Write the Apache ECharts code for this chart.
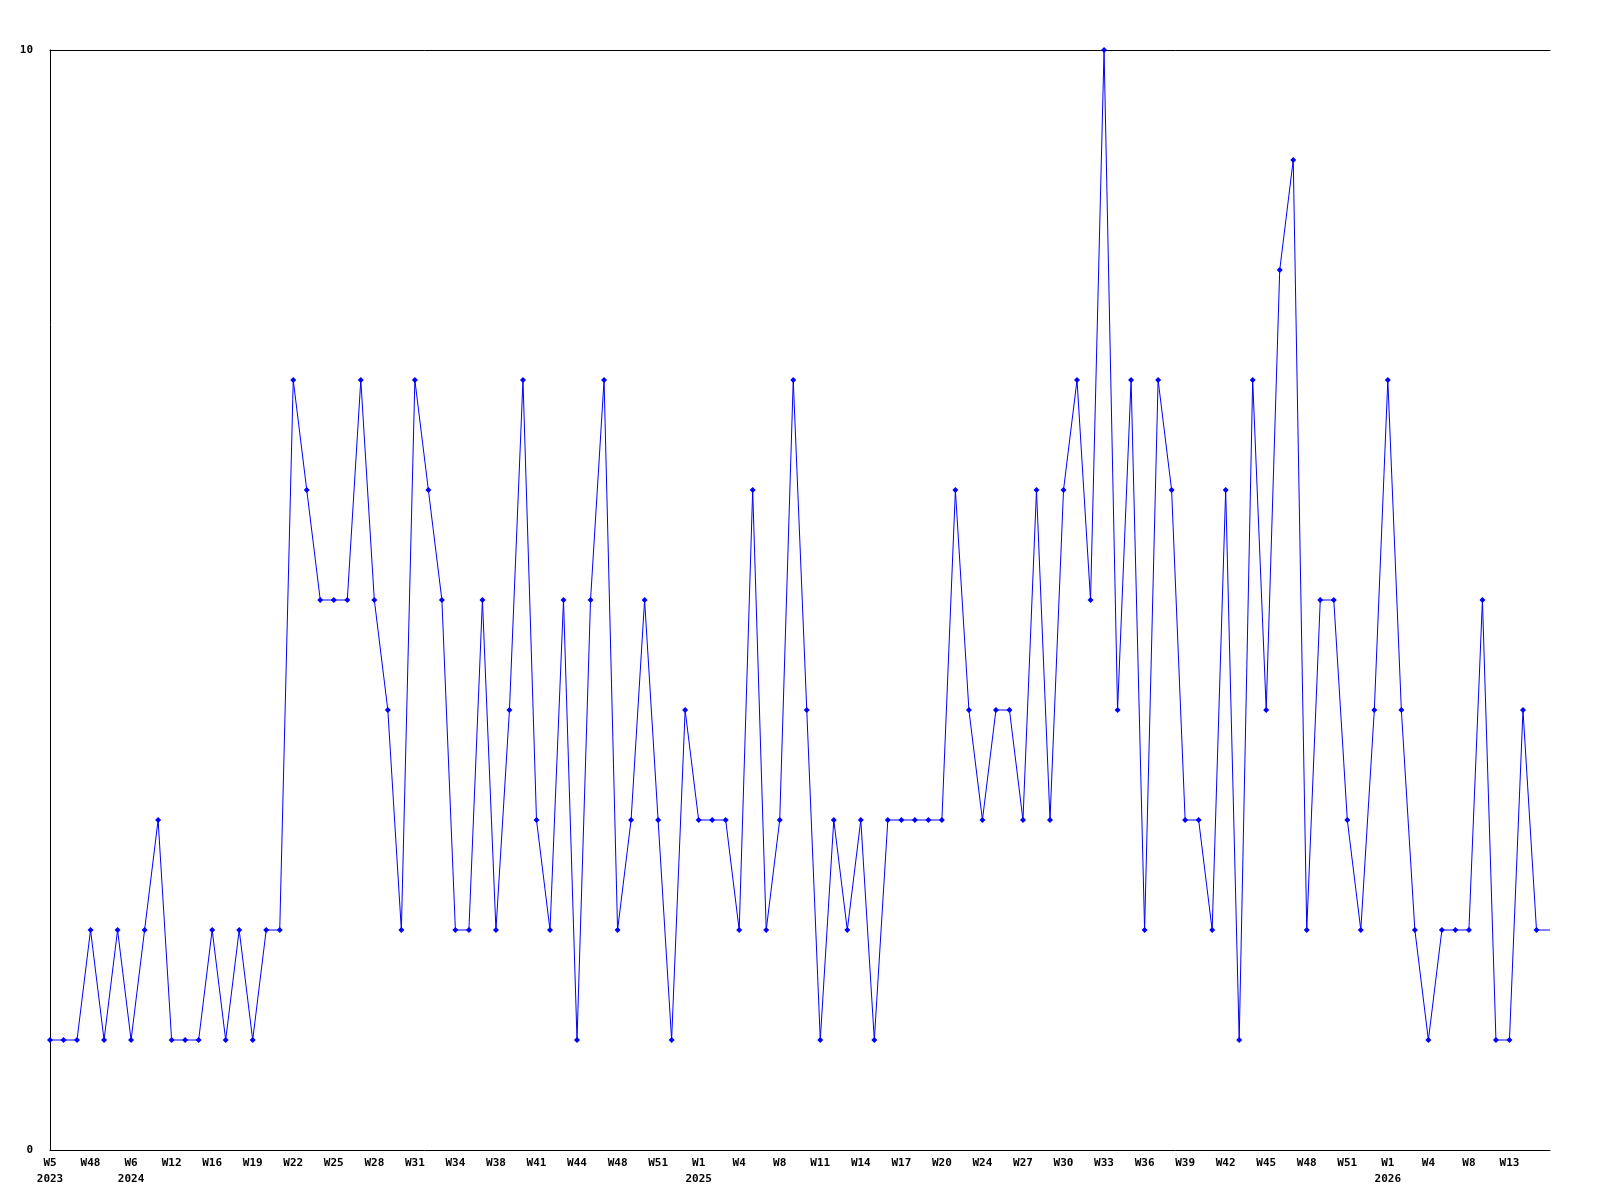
<!DOCTYPE html>
<html>
<head>
<meta charset="utf-8">
<title>Weekly counts</title>
<script src="https://cdn.jsdelivr.net/npm/echarts@6/dist/echarts.min.js"></script>
<style>
  html, body { margin: 0; padding: 0; background: #fff; }
  #chart { width: 1600px; height: 1200px; }
</style>
</head>
<body>
<div id="chart"></div>
<script>
// categories: one entry per week that has data (gaps are skipped)
var weeks = [
  '2023-W5', '2023-W9', '2023-W30', '2023-W48', '2023-W50', '2024-W3',
  '2024-W6', '2024-W8', '2024-W10', '2024-W12', '2024-W13', '2024-W15',
  '2024-W16', '2024-W17', '2024-W18', '2024-W19', '2024-W20', '2024-W21',
  '2024-W22', '2024-W23', '2024-W24', '2024-W25', '2024-W26', '2024-W27',
  '2024-W28', '2024-W29', '2024-W30', '2024-W31', '2024-W32', '2024-W33',
  '2024-W34', '2024-W36', '2024-W37', '2024-W38', '2024-W39', '2024-W40',
  '2024-W41', '2024-W42', '2024-W43', '2024-W44', '2024-W45', '2024-W47',
  '2024-W48', '2024-W49', '2024-W50', '2024-W51', '2024-W52', '2024-W53',
  '2025-W1', '2025-W2', '2025-W3', '2025-W4', '2025-W5', '2025-W7',
  '2025-W8', '2025-W9', '2025-W10', '2025-W11', '2025-W12', '2025-W13',
  '2025-W14', '2025-W15', '2025-W16', '2025-W17', '2025-W18', '2025-W19',
  '2025-W20', '2025-W21', '2025-W23', '2025-W24', '2025-W25', '2025-W26',
  '2025-W27', '2025-W28', '2025-W29', '2025-W30', '2025-W31', '2025-W32',
  '2025-W33', '2025-W34', '2025-W35', '2025-W36', '2025-W37', '2025-W38',
  '2025-W39', '2025-W40', '2025-W41', '2025-W42', '2025-W43', '2025-W44',
  '2025-W45', '2025-W46', '2025-W47', '2025-W48', '2025-W49', '2025-W50',
  '2025-W51', '2025-W52', '2025-W53', '2026-W1', '2026-W2', '2026-W3',
  '2026-W4', '2026-W5', '2026-W7', '2026-W8', '2026-W9', '2026-W11',
  '2026-W13', '2026-W14', '2026-W15', '2026-W16'
];

var counts = [
  1, 1, 1, 2, 1, 2, 1, 2, 3, 1, 1, 1, 2, 1, 2, 1, 2, 2,
  7, 6, 5, 5, 5, 7, 5, 4, 2, 7, 6, 5, 2, 2, 5, 2, 4, 7, 3,
  2, 5, 1, 5, 7, 2, 3, 5, 3, 1, 4, 3, 3, 3, 2, 6, 2, 3,
  7, 4, 1, 3, 2, 3, 1, 3, 3, 3, 3, 3, 6, 4, 3, 4, 4, 3, 6,
  3, 6, 7, 5, 10, 4, 7, 2, 7, 6, 3, 3, 2, 6, 1, 7, 4, 8,
  9, 2, 5, 5, 3, 2, 4, 7, 4, 2, 1, 2, 2, 2, 5, 1, 1, 4, 2, 2
];

var yTicks = [0, 10];

var labelFont = {
  fontFamily: '"DejaVu Sans Mono", monospace',
  fontSize: 11,
  fontWeight: 'bold',
  color: '#000'
};

var chart = echarts.init(document.getElementById('chart'));

// week label every 3rd category, year added when it changes
function weekLabel(value, index) {
  if (index === weeks.length - 1) return '';
  var parts = value.split('-');
  var yr = parts[0];
  var prev = index >= 3 ? weeks[index - 3].split('-')[0] : null;
  if (index === 0 || yr !== prev) {
    return parts[1] + '\n' + yr;
  }
  return parts[1];
}

var option = {
  animation: false,
  backgroundColor: '#fff',
  grid: { left: 50, right: 50, top: 50, bottom: 50, containLabel: false },
  xAxis: [
    {
      type: 'category',
      data: weeks,
      boundaryGap: false,
      axisLine: { show: true, lineStyle: { color: '#000', width: 1 } },
      axisTick: { show: false },
      splitLine: { show: false },
      axisLabel: Object.assign({
        interval: function (index) {
          return index % 3 === 0;
        },
        hideOverlap: false,
        margin: 5,
        lineHeight: 16,
        formatter: weekLabel
      }, labelFont)
    },
    {
      // top frame line only
      type: 'category',
      data: weeks,
      position: 'top',
      boundaryGap: false,
      axisLine: { show: true, lineStyle: { color: '#000', width: 1 } },
      axisTick: { show: false },
      axisLabel: { show: false },
      splitLine: { show: false }
    }
  ],
  yAxis: {
    type: 'value',
    min: yTicks[0],
    max: yTicks[1],
    interval: yTicks[1] - yTicks[0],
    axisLine: { show: true, lineStyle: { color: '#000', width: 1 } },
    axisTick: { show: false },
    splitLine: { show: false },
    axisLabel: Object.assign({ margin: 17 }, labelFont)
  },
  series: [
    {
      name: 'count',
      type: 'line',
      data: counts,
      xAxisIndex: 0,
      symbol: function (v, p) {
        return p.dataIndex === counts.length - 1 ? 'none' : 'diamond';
      },
      symbolSize: 6,
      showAllSymbol: true,
      lineStyle: { color: '#0000ff', width: 1 },
      itemStyle: { color: '#0000ff' },
      clip: false
    }
  ]
};

chart.setOption(option);
</script>
</body>
</html>
